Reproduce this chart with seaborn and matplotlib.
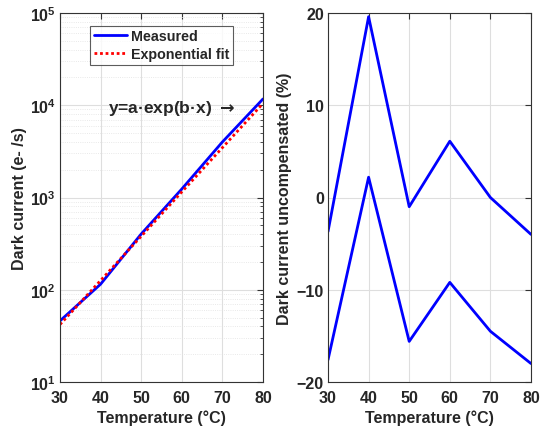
import matplotlib
matplotlib.use("Agg")
import matplotlib.pyplot as plt
import seaborn as sns
import pandas as pd
from matplotlib.ticker import LogLocator, NullFormatter

# Temperatures of the dark-current sweep (°C)
temperature = [30, 40, 50, 60, 70, 80]
# Measured dark current (e-/s)
measured = [46, 115, 402, 1236, 4000, 11700]
# Exponential fit evaluated at the same temperatures (e-/s)
exp_fit = [42, 126, 380, 1150, 3470, 10470]
# Uncompensated dark current deviation (%) for the two curves
uncomp_upper = [-3.7, 19.6, -1.0, 6.1, 0.0, -4.0]
uncomp_lower = [-17.6, 2.2, -15.6, -9.2, -14.5, -18.0]

sns.set_theme(style="white")
plt.rcParams["font.family"] = ["Liberation Sans", "DejaVu Sans"]
plt.rcParams["font.weight"] = "bold"
plt.rcParams["axes.labelweight"] = "bold"
plt.rcParams["mathtext.fontset"] = "dejavusans"

fig = plt.figure(figsize=(5.41, 4.35), dpi=100)
W, H = 541, 435
ax1 = fig.add_axes([60 / W, (H - 383) / H, 203 / W, 369 / H])
ax2 = fig.add_axes([328 / W, (H - 383) / H, 203 / W, 369 / H])

df_left = pd.DataFrame({"T": temperature, "meas": measured, "fit": exp_fit})
sns.lineplot(data=df_left, x="T", y="meas", ax=ax1, color="#0000ff", lw=2,
             label="Measured")
sns.lineplot(data=df_left, x="T", y="fit", ax=ax1, color="#ff0000", lw=2,
             linestyle=(0, (1, 1)), label="Exponential fit")
ax1.set_yscale("log")
ax1.set_xlim(30, 80)
ax1.set_ylim(10, 1e5)
ax1.yaxis.set_major_locator(LogLocator(base=10, numticks=10))
ax1.yaxis.set_minor_locator(LogLocator(base=10, subs=range(2, 10), numticks=20))
ax1.yaxis.set_minor_formatter(NullFormatter())
ax1.grid(True, which="major", color="#dedede", lw=0.8)
ax1.grid(True, which="minor", axis="y", color="#e2e2e2", lw=0.6, linestyle=":")
ax1.set_xlabel("Temperature (°C)", fontsize=11.5, fontweight="bold", labelpad=3)
ax1.set_ylabel("Dark current (e- /s)", fontsize=11.5, fontweight="bold", labelpad=2)
ax1.text(73.1, 9500, r"y=a·exp(b·x) $\rightarrow$", ha="right", va="center",
         fontsize=12.5, fontweight="bold")
leg = ax1.legend(loc="upper left", bbox_to_anchor=(0.148, 0.965), fontsize=10.3,
                 frameon=True, fancybox=False, edgecolor="#333333",
                 handlelength=2.3, borderpad=0.25, labelspacing=0.25,
                 handletextpad=0.3, borderaxespad=0.0)
leg.get_frame().set_linewidth(0.8)
for t in leg.get_texts():
    t.set_fontweight("bold")

df_right = pd.DataFrame({"T": temperature * 2,
                         "val": uncomp_upper + uncomp_lower,
                         "curve": ["upper"] * 6 + ["lower"] * 6})
sns.lineplot(data=df_right, x="T", y="val", units="curve", estimator=None,
             ax=ax2, color="#0000ff", lw=2)
ax2.set_xlim(30, 80)
ax2.set_ylim(-20, 20)
ax2.set_yticks([-20, -10, 0, 10, 20])
ax2.grid(True, which="major", color="#dedede", lw=0.8)
ax2.set_xlabel("Temperature (°C)", fontsize=11.5, fontweight="bold", labelpad=3)
ax2.set_ylabel("Dark current uncompensated (%)", fontsize=11.5,
               fontweight="bold", labelpad=3)

for ax in (ax1, ax2):
    ax.set_xticks(temperature)
    ax.tick_params(which="both", direction="in", top=True, right=True,
                   labelsize=11.5, color="#333333")
    ax.tick_params(which="major", length=4, width=0.8)
    ax.tick_params(which="minor", length=2, width=0.6)
    ax.tick_params(axis="x", which="major", pad=6)
    ax.tick_params(axis="y", which="major", pad=3)
    for lab in ax.get_xticklabels() + ax.get_yticklabels():
        lab.set_fontweight("bold")
    for s in ax.spines.values():
        s.set_color("#333333")
        s.set_linewidth(0.8)
        s.set_visible(True)
    ax.set_facecolor("white")

fig.savefig("out.png", dpi=100)
